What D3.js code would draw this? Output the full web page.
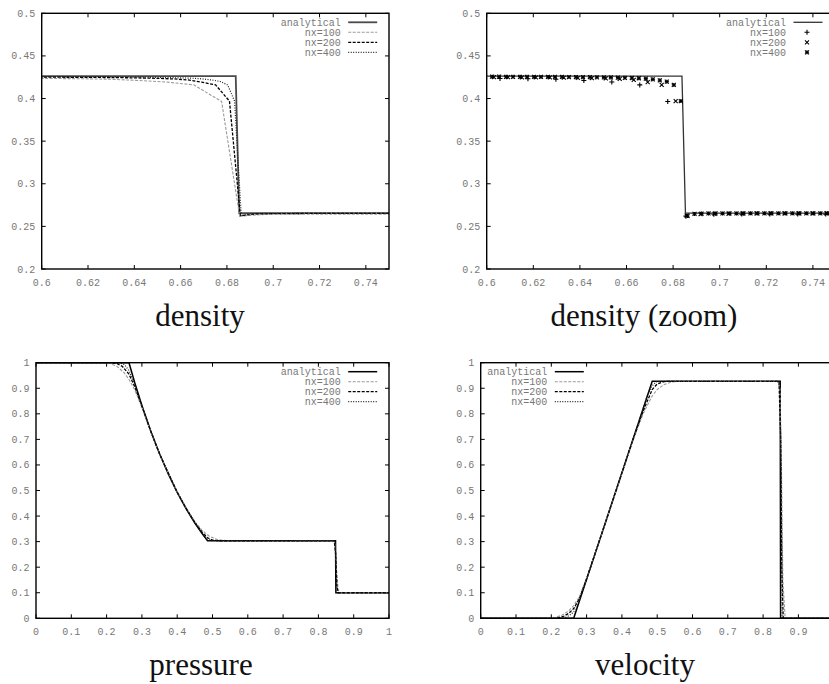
<!DOCTYPE html>
<meta charset="utf-8">
<style>* {padding:0; margin:0; border:0; outline:0;} body {background:#fff;}</style>
<body>
<script src="https://cdn.jsdelivr.net/npm/d3@7"></script>
<script>
// tick values
densXTicks = [0.6, 0.62, 0.64, 0.66, 0.68, 0.7, 0.72, 0.74]
densYTicks = [0.2, 0.25, 0.3, 0.35, 0.4, 0.45, 0.5]
unitTicks = [0, 0.1, 0.2, 0.3, 0.4, 0.5, 0.6, 0.7, 0.8, 0.9, 1]
velXTicks = [0, 0.1, 0.2, 0.3, 0.4, 0.5, 0.6, 0.7, 0.8, 0.9]

seriesNames = ["analytical", "nx=100", "nx=200", "nx=400"]

// density (same cells for line panel and zoom panel)
densAnalytical = [[0.58,0.4263],[0.6838,0.4263],[0.6853,0.2656],[0.76,0.2656]]
dens100 = [[0.5937,0.4238],[0.6057,0.4235],[0.6177,0.4232],[0.6297,0.4226],[0.6417,0.4212],
  [0.6537,0.4194],[0.6657,0.4160],[0.6777,0.3965],[0.6855,0.2620],[0.6975,0.2643],
  [0.7095,0.2644],[0.7215,0.2644],[0.7335,0.2644],[0.7455,0.2644],[0.7575,0.2644]]
dens200 = [[0.5971,0.4252],[0.6031,0.4251],[0.6091,0.4250],[0.6151,0.4249],[0.6211,0.4248],
  [0.6271,0.4247],[0.6331,0.4245],[0.6391,0.4243],[0.6451,0.4240],[0.6511,0.4236],
  [0.6571,0.4230],[0.6631,0.4218],[0.6691,0.4192],[0.6751,0.4160],[0.6811,0.3970],
  [0.6858,0.2625],[0.6918,0.2645],[0.6978,0.2648],[0.7038,0.2650],[0.7098,0.2651],
  [0.7158,0.2652],[0.7218,0.2652],[0.7278,0.2652],[0.7338,0.2653],[0.7398,0.2653],
  [0.7458,0.2653],[0.7518,0.2653]]
dens400 = [[0.5993,0.4256],[0.6023,0.4256],[0.6053,0.4256],[0.6083,0.4255],[0.6113,0.4255],
  [0.6143,0.4255],[0.6173,0.4255],[0.6203,0.4254],[0.6233,0.4254],[0.6263,0.4254],
  [0.6293,0.4253],[0.6323,0.4253],[0.6353,0.4252],[0.6383,0.4252],[0.6413,0.4251],
  [0.6443,0.4250],[0.6473,0.4249],[0.6503,0.4248],[0.6533,0.4247],[0.6563,0.4245],
  [0.6593,0.4243],[0.6623,0.4241],[0.6653,0.4238],[0.6683,0.4233],[0.6713,0.4225],
  [0.6743,0.4214],[0.6773,0.4198],[0.6803,0.4160],[0.6833,0.3970],
  [0.6862,0.2622],[0.6892,0.2646],[0.6922,0.2650],[0.6952,0.2652],[0.6982,0.2652],
  [0.7012,0.2652],[0.7042,0.2652],[0.7072,0.2652],[0.7102,0.2652],[0.7132,0.2653],
  [0.7162,0.2653],[0.7192,0.2653],[0.7222,0.2653],[0.7252,0.2653],[0.7282,0.2653],
  [0.7312,0.2653],[0.7342,0.2653],[0.7372,0.2653],[0.7402,0.2653],[0.7432,0.2653],
  [0.7462,0.2653],[0.7492,0.2653],[0.7522,0.2653]]

// pressure
pressAnalytical = [[0,1],[0.2634,1],[0.28,0.9208],[0.30,0.8328],[0.325,0.7329],[0.35,0.6436],
  [0.375,0.5638],[0.40,0.4925],[0.425,0.4291],[0.45,0.3729],[0.47,0.3326],[0.4859,0.3031],
  [0.8485,0.3031],[0.8495,0.1],[1,0.1]]
press100 = [[0,1],[0.19,1],[0.21,0.997],[0.23,0.985],[0.25,0.96],[0.2634,0.935],[0.28,0.893],
  [0.30,0.825],[0.325,0.73],[0.35,0.642],[0.40,0.494],[0.425,0.434],[0.45,0.378],[0.47,0.345],
  [0.49,0.322],[0.51,0.310],[0.53,0.305],[0.56,0.3032],[0.842,0.3032],[0.847,0.29],
  [0.851,0.2],[0.856,0.11],[0.862,0.1],[1,0.1]]
press200 = [[0,1],[0.215,1],[0.23,0.996],[0.245,0.985],[0.2634,0.955],[0.28,0.905],[0.30,0.83],
  [0.325,0.732],[0.35,0.643],[0.40,0.493],[0.425,0.431],[0.45,0.375],[0.47,0.338],
  [0.4859,0.315],[0.50,0.306],[0.515,0.3035],[0.845,0.3032],[0.849,0.25],[0.852,0.13],
  [0.856,0.1],[1,0.1]]
press400 = [[0,1],[0.235,1],[0.25,0.993],[0.2634,0.97],[0.28,0.913],[0.30,0.832],[0.325,0.733],
  [0.35,0.6436],[0.40,0.4925],[0.425,0.43],[0.45,0.3735],[0.47,0.335],[0.4859,0.309],
  [0.497,0.304],[0.51,0.3031],[0.847,0.3031],[0.8505,0.2],[0.853,0.1],[1,0.1]]

// velocity
velAnalytical = [[0,0],[0.2634,0],[0.4859,0.9274],[0.8485,0.9274],[0.8495,0],[1,0]]
vel100 = [[0,0],[0.19,0],[0.21,0.003],[0.23,0.012],[0.25,0.03],[0.2634,0.05],[0.28,0.085],
  [0.30,0.158],[0.35,0.36],[0.40,0.565],[0.43,0.69],[0.46,0.80],[0.4859,0.87],[0.50,0.895],
  [0.52,0.915],[0.54,0.924],[0.56,0.927],[0.84,0.927],[0.848,0.9],[0.852,0.6],[0.856,0.15],
  [0.862,0.01],[0.87,0],[1,0]]
vel200 = [[0,0],[0.215,0],[0.235,0.008],[0.25,0.02],[0.2634,0.038],[0.28,0.078],[0.30,0.155],
  [0.35,0.36],[0.40,0.569],[0.43,0.694],[0.46,0.81],[0.4859,0.895],[0.50,0.917],[0.52,0.926],
  [0.53,0.927],[0.845,0.927],[0.85,0.7],[0.853,0.2],[0.857,0],[1,0]]
vel400 = [[0,0],[0.235,0],[0.25,0.01],[0.2634,0.025],[0.28,0.073],[0.30,0.153],[0.35,0.36],
  [0.40,0.569],[0.43,0.694],[0.46,0.82],[0.47,0.865],[0.4859,0.91],[0.497,0.925],[0.51,0.927],
  [0.848,0.927],[0.851,0.5],[0.854,0],[1,0]]
</script>
<script>
W = 829; H = 684

svg = d3.select('body').append('svg').attr('width', W).attr('height', H)
svg.append('rect').attr('width', W).attr('height', H).attr('fill', '#fff')

lineStyles = [
  {stroke:'#000', width:1.5, dash:null},
  {stroke:'#9a9a9a', width:1.1, dash:'3,1.5'},
  {stroke:'#000', width:1.3, dash:'3,1.5'},
  {stroke:'#222', width:1.2, dash:'1,1.5'}
]

panels = [
  {title:'density', tx:200, ty:326, l:41.7, r:389, t:13.3, b:269,
   xd:[0.6,0.75], yd:[0.2,0.5], xt:densXTicks, yt:densYTicks, mode:'lines',
   data:[densAnalytical, dens100, dens200, dens400], legX:340.7, anaColor:'#4a4a4a', anaWidth:1.8},
  {title:'density (zoom)', tx:644, ty:326, l:486.7, r:836.2, t:13.3, b:269,
   xd:[0.6,0.75], yd:[0.2,0.5], xt:densXTicks, yt:densYTicks, mode:'points',
   data:[densAnalytical, dens100, dens200, dens400], legX:786, anaColor:'#333', anaWidth:1.3},
  {title:'pressure', tx:201, ty:675, l:36, r:389, t:362.7, b:618.3,
   xd:[0,1], yd:[0,1], xt:unitTicks, yt:unitTicks, mode:'lines',
   data:[pressAnalytical, press100, press200, press400], legX:340.7, anaColor:'#000', anaWidth:1.5},
  {title:'velocity', tx:645, ty:675, l:480.7, r:833.7, t:362.7, b:618.3,
   xd:[0,1], yd:[0,1], xt:velXTicks, yt:unitTicks, mode:'lines',
   data:[velAnalytical, vel100, vel200, vel400], legX:547.3, anaColor:'#000', anaWidth:1.5}
]

fmt = d3.format('~g')

panels.forEach(function(p, pi){
  var x = d3.scaleLinear().domain(p.xd).range([p.l, p.r])
  var y = d3.scaleLinear().domain(p.yd).range([p.b, p.t])
  var g = svg.append('g')

  var clipId = 'clip' + pi
  g.append('clipPath').attr('id', clipId)
    .append('rect').attr('x', p.l).attr('y', p.t).attr('width', p.r - p.l).attr('height', p.b - p.t)

  // ticks (inward, mirrored)
  var tk = 4
  var ticks = g.append('g').attr('stroke', '#000').attr('stroke-width', 1)
  p.xt.forEach(function(v){
    ticks.append('line').attr('x1', x(v)).attr('x2', x(v)).attr('y1', p.b).attr('y2', p.b - tk)
    ticks.append('line').attr('x1', x(v)).attr('x2', x(v)).attr('y1', p.t).attr('y2', p.t + tk)
  })
  p.yt.forEach(function(v){
    ticks.append('line').attr('x1', p.l).attr('x2', p.l + tk).attr('y1', y(v)).attr('y2', y(v))
    ticks.append('line').attr('x1', p.r).attr('x2', p.r - tk).attr('y1', y(v)).attr('y2', y(v))
  })

  var lab = g.append('g').attr('font-family', '"Liberation Mono", monospace')
    .attr('font-size', 10).attr('fill', '#777')
  lab.selectAll('.xl').data(p.xt).enter().append('text')
    .attr('x', function(d){return x(d)}).attr('y', p.b + 13).attr('dy', '0.35em')
    .attr('text-anchor', 'middle').text(fmt)
  lab.selectAll('.yl').data(p.yt).enter().append('text')
    .attr('x', p.l - 6.5).attr('y', function(d){return y(d)}).attr('dy', '0.35em')
    .attr('text-anchor', 'end').text(fmt)

  var line = d3.line().x(function(d){return x(d[0])}).y(function(d){return y(d[1])})
  var plot = g.append('g').attr('clip-path', 'url(#' + clipId + ')')

  // series
  p.data.forEach(function(s, si){
    var st = lineStyles[si]
    if (si == 0 || p.mode == 'lines') {
      plot.append('path').attr('d', line(s)).attr('fill', 'none')
        .attr('stroke', si == 0 ? p.anaColor : st.stroke)
        .attr('stroke-width', si == 0 ? p.anaWidth : st.width)
        .attr('stroke-dasharray', st.dash)
    } else {
      var m = plot.append('g').attr('stroke', '#000').attr('stroke-width', 1.1).attr('fill', 'none')
      s.forEach(function(d){
        var cx = x(d[0]), cy = y(d[1]), r = si == 1 ? 2.5 : 2
        if (si == 1 || si == 3)
          m.append('path').attr('d', 'M' + (cx - r) + ',' + cy + 'h' + 2 * r + 'M' + cx + ',' + (cy - r) + 'v' + 2 * r)
        if (si == 2 || si == 3)
          m.append('path').attr('d', 'M' + (cx - r) + ',' + (cy - r) + 'l' + 2 * r + ',' + 2 * r + 'M' + (cx - r) + ',' + (cy + r) + 'l' + 2 * r + ',' + (-2 * r))
      })
    }
  })

  // legend
  var leg = g.append('g')
  seriesNames.forEach(function(name, si){
    var ly = p.t + 9 + si * 10
    leg.append('text').attr('x', p.legX).attr('y', ly).attr('dy', '0.35em')
      .attr('text-anchor', 'end').attr('font-family', '"Liberation Mono", monospace')
      .attr('font-size', 10).attr('fill', '#777').text(name)
    var st = lineStyles[si]
    if (si == 0 || p.mode == 'lines') {
      leg.append('line').attr('x1', p.legX + 7.5).attr('x2', p.legX + 36.5).attr('y1', ly).attr('y2', ly)
        .attr('stroke', si == 0 ? p.anaColor : st.stroke)
        .attr('stroke-width', si == 0 ? p.anaWidth : st.width)
        .attr('stroke-dasharray', st.dash)
    } else {
      var cx = p.legX + 21, r = si == 1 ? 2.5 : 2
      var mk = leg.append('g').attr('stroke', '#000').attr('stroke-width', 1.1)
      if (si == 1 || si == 3)
        mk.append('path').attr('d', 'M' + (cx - r) + ',' + ly + 'h' + 2 * r + 'M' + cx + ',' + (ly - r) + 'v' + 2 * r)
      if (si == 2 || si == 3)
        mk.append('path').attr('d', 'M' + (cx - r) + ',' + (ly - r) + 'l' + 2 * r + ',' + 2 * r + 'M' + (cx - r) + ',' + (ly + r) + 'l' + 2 * r + ',' + (-2 * r))
    }
  })

  // frame
  g.append('rect').attr('x', p.l).attr('y', p.t).attr('width', p.r - p.l).attr('height', p.b - p.t)
    .attr('fill', 'none').attr('stroke', '#000').attr('stroke-width', 1.4)

  // caption
  svg.append('text').attr('x', p.tx).attr('y', p.ty).attr('text-anchor', 'middle')
    .attr('font-family', '"Liberation Serif", serif').attr('font-size', 31).attr('fill', '#111')
    .text(p.title)
})
</script>
</body>
